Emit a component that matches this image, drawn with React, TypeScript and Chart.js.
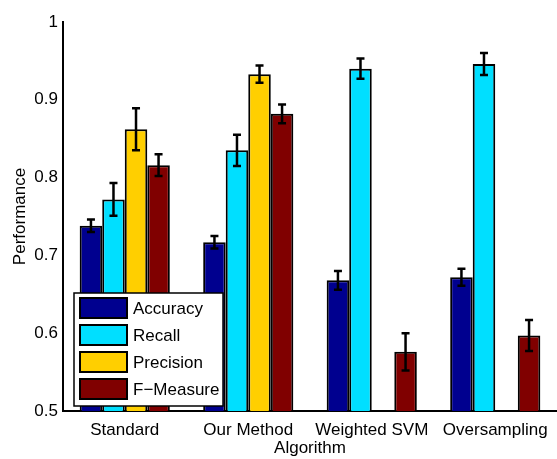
import React, { useEffect, useRef } from "react";
import { Chart, registerables } from "chart.js";

Chart.register(...registerables);

const categories = ["Standard", "Our Method", "Weighted SVM", "Oversampling"];
const seriesNames = ["Accuracy", "Recall", "Precision", "F\u2212Measure"];
const accuracy = [0.738, 0.717, 0.668, 0.672];
const accuracyErr = [0.008, 0.008, 0.012, 0.011];
const recall = [0.772, 0.835, 0.94, 0.946];
const recallErr = [0.021, 0.02, 0.013, 0.014];
const precision = [0.862, 0.933, null, null];
const precisionErr = [0.027, 0.011, null, null];
const fMeasure = [0.816, 0.882, 0.576, 0.597];
const fMeasureErr = [0.014, 0.012, 0.024, 0.02];
const yMin = 0.5;
const yMax = 1;
const yStep = 0.1;
const colors = ["#00008F", "#00DFFF", "#FFCF00", "#800000"];

const FONT = "'Liberation Sans', Arial, Helvetica, sans-serif";

const errorBarPlugin = {
  id: "errorBars",
  afterDatasetsDraw(chart: any) {
    const ctx = chart.ctx;
    const yScale = chart.scales.y;
    ctx.save();
    ctx.strokeStyle = "#000";
    ctx.lineWidth = 2.5;
    chart.data.datasets.forEach((ds: any, i: number) => {
      const meta = chart.getDatasetMeta(i);
      meta.data.forEach((el: any, j: number) => {
        const v = ds.data[j];
        const e = ds.errors[j];
        if (v == null || e == null) return;
        const x = el.x;
        const yt = yScale.getPixelForValue(v + e);
        const yb = yScale.getPixelForValue(v - e);
        const cap = 4;
        ctx.beginPath();
        ctx.moveTo(x, yt);
        ctx.lineTo(x, yb);
        ctx.moveTo(x - cap, yt);
        ctx.lineTo(x + cap, yt);
        ctx.moveTo(x - cap, yb);
        ctx.lineTo(x + cap, yb);
        ctx.stroke();
      });
    });
    ctx.restore();
  },
};

const boxLegendPlugin = {
  id: "boxLegend",
  afterDraw(chart: any) {
    const ctx = chart.ctx;
    const area = chart.chartArea;
    const x0 = area.left + 11;
    const h = 113;
    const w = 149;
    const y0 = area.bottom - 5 - h;
    ctx.save();
    ctx.fillStyle = "#fff";
    ctx.fillRect(x0, y0, w, h);
    ctx.strokeStyle = "#000";
    ctx.lineWidth = 1.5;
    ctx.strokeRect(x0, y0, w, h);
    ctx.font = `17px ${FONT}`;
    ctx.textBaseline = "middle";
    ctx.textAlign = "left";
    seriesNames.forEach((name, i) => {
      const sy = y0 + 5 + i * 27;
      ctx.fillStyle = colors[i];
      ctx.fillRect(x0 + 6, sy, 47, 20);
      ctx.lineWidth = 2;
      ctx.strokeStyle = "#000";
      ctx.strokeRect(x0 + 6, sy, 47, 20);
      ctx.fillStyle = "#000";
      ctx.fillText(name, x0 + 59, sy + 11);
    });
    ctx.restore();
  },
};

export default function App() {
  const ref = useRef<HTMLCanvasElement | null>(null);
  useEffect(() => {
    document.body.style.margin = "0";
    const series = [accuracy, recall, precision, fMeasure];
    const errs = [accuracyErr, recallErr, precisionErr, fMeasureErr];
    const chart = new Chart(ref.current as HTMLCanvasElement, {
      type: "bar",
      data: {
        labels: categories,
        datasets: series.map((d, i) => ({
          label: seriesNames[i],
          data: d,
          errors: errs[i],
          backgroundColor: colors[i],
          borderColor: "#000",
          borderWidth: 2,
          categoryPercentage: 0.73,
          barPercentage: 1,
        })) as any,
      },
      options: {
        animation: false,
        responsive: false,
        layout: { padding: { top: 22, left: 0, right: 0, bottom: 0 } },
        plugins: { legend: { display: false }, tooltip: { enabled: false } },
        scales: {
          x: {
            grid: { display: false, drawTicks: false },
            border: { display: true, color: "#000", width: 2 },
            ticks: { color: "#000", font: { family: FONT, size: 17 }, padding: 9 },
            title: {
              display: true,
              text: "Algorithm",
              color: "#000",
              font: { family: FONT, size: 17 },
              padding: 0,
            },
            afterFit: (s: any) => {
              s.height = 48;
            },
          },
          y: {
            min: yMin,
            max: yMax,
            grid: { display: false, drawTicks: false },
            border: { display: true, color: "#000", width: 2 },
            ticks: {
              stepSize: yStep,
              color: "#000",
              font: { family: FONT, size: 17 },
              padding: 5,
              callback: (v: any) => String(Number(Number(v).toFixed(1))),
            },
            title: {
              display: true,
              text: "Performance",
              color: "#000",
              font: { family: FONT, size: 17 },
              padding: { top: 10, bottom: 0 },
            },
            afterFit: (s: any) => {
              s.width = 63;
            },
          },
        },
      },
      plugins: [errorBarPlugin, boxLegendPlugin],
    });
    return () => chart.destroy();
  }, []);
  return (
    <div style={{ position: "fixed", left: 0, top: 0, width: 557, height: 459 }}>
      <canvas ref={ref} width={557} height={459} style={{ display: "block" }} />
    </div>
  );
}
